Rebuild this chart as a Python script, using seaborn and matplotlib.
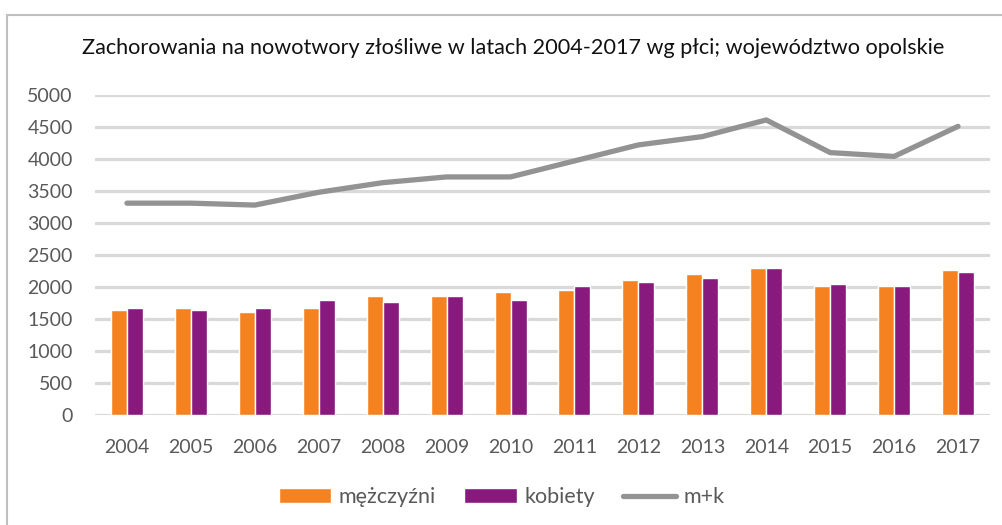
import pandas as pd
import matplotlib
matplotlib.use("Agg")
import matplotlib.pyplot as plt
import matplotlib.patches as mpatches
import seaborn as sns

# data
years = ['2004', '2005', '2006', '2007', '2008', '2009', '2010',
         '2011', '2012', '2013', '2014', '2015', '2016', '2017']
men = [1640, 1670, 1610, 1670, 1860, 1860, 1920,
       1950, 2110, 2200, 2300, 2020, 2020, 2270]
women = [1670, 1640, 1670, 1800, 1770, 1860, 1800,
         2020, 2080, 2140, 2300, 2050, 2020, 2230]
total = [3310, 3310, 3280, 3480, 3630, 3720, 3720,
         3970, 4220, 4350, 4610, 4100, 4040, 4510]
series_names = ['mężczyźni', 'kobiety', 'm+k']
title = 'Zachorowania na nowotwory złośliwe w latach 2004-2017 wg płci; województwo opolskie'

ORANGE = '#F58220'
PURPLE = '#881A7E'
GREY = '#939393'
TEXT = '#595959'


def main():
    sns.set_style('white')
    plt.rcParams['font.family'] = ['Lato', 'DejaVu Sans']

    df = pd.DataFrame({
        'rok': years * 2,
        'liczba': men + women,
        'płeć': [series_names[0]] * len(years) + [series_names[1]] * len(years),
    })

    fig = plt.figure(figsize=(10.03, 5.25), dpi=100)
    ax = fig.add_axes([95 / 1003, 110 / 525, 895 / 1003, 320 / 525])

    sns.barplot(data=df, x='rok', y='liczba', hue='płeć', order=years,
                hue_order=series_names[:2], palette=[ORANGE, PURPLE],
                width=0.5, edgecolor='white', linewidth=1, saturation=1, ax=ax)
    sns.pointplot(x=years, y=total, order=years, color=GREY, markers='',
                  linewidth=3.8, label=series_names[2], ax=ax)
    for ln in ax.lines:
        ln.set_solid_capstyle('round')

    ax.set_ylim(0, 5000)
    ax.set_yticks(range(0, 5001, 500))
    ax.set_xlim(-0.5, len(years) - 0.5)
    ax.set_axisbelow(True)
    ax.yaxis.grid(True, color='#d9d9d9', linewidth=2.3)
    ax.xaxis.grid(False)
    sns.despine(ax=ax, left=True, bottom=True)
    ax.tick_params(axis='both', length=0, labelsize=14, labelcolor=TEXT)
    ax.tick_params(axis='y', pad=16)
    ax.tick_params(axis='x', pad=17)
    ax.set_xlabel('')
    ax.set_ylabel('')

    handles, labels = ax.get_legend_handles_labels()
    if ax.get_legend() is not None:
        ax.get_legend().remove()
    fig.legend(handles, labels, loc='center', bbox_to_anchor=(0.5, 28 / 525),
               ncol=3, frameon=False, fontsize=15.5, labelcolor=TEXT,
               handlelength=2.45, handleheight=0.65, handletextpad=0.35,
               columnspacing=1.3)

    fig.text(0.512, 1 - 48 / 525, title, ha='center', va='center',
             fontsize=15.6, color='#111111')

    # light frame around the chart area
    fig.patches.append(mpatches.Rectangle((7 / 1003, -0.1), 2, 510 / 525 + 0.1,
                                          transform=fig.transFigure, fill=False,
                                          edgecolor='#c0c0c0', linewidth=1.5))

    fig.savefig('out.png', dpi=100)
    plt.close(fig)


if __name__ == '__main__':
    main()
